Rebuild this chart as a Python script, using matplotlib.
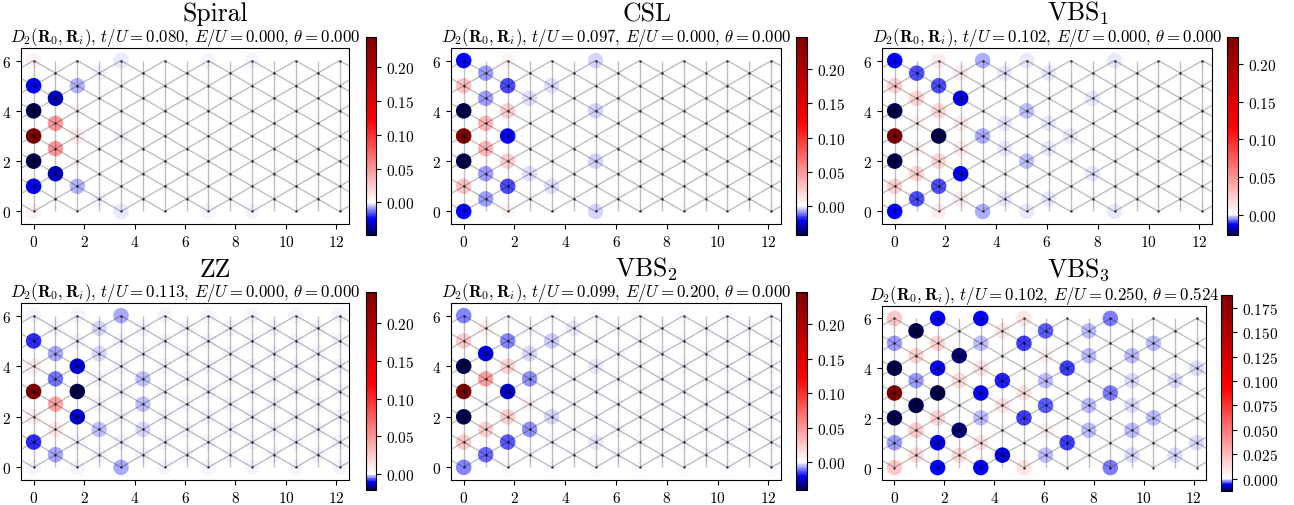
import numpy as np
import matplotlib
matplotlib.use("Agg")
import matplotlib.pyplot as plt
from matplotlib.collections import LineCollection
from matplotlib.colors import ListedColormap, Normalize, TwoSlopeNorm
from matplotlib.ticker import MultipleLocator, FormatStrFormatter

plt.rcParams['font.family'] = 'serif'
plt.rcParams['font.serif'] = ['cmr10']
plt.rcParams['mathtext.fontset'] = 'cm'
plt.rcParams['axes.formatter.use_mathtext'] = True

# panel names and parameters
names = ['Spiral', 'CSL', r'VBS$_1$', 'ZZ', r'VBS$_2$', r'VBS$_3$']
t_over_U = [0.080, 0.097, 0.102, 0.113, 0.099, 0.102]
E_over_U = [0.000, 0.000, 0.000, 0.000, 0.200, 0.250]
theta = [0.000, 0.000, 0.000, 0.000, 0.000, 0.524]

n_cols = 15   # columns of the triangular lattice
n_rows = 6    # sites per column (periodic in y)

# correlation D2(R0, Ri), (column, row, value); sites not listed are ~0
spiral_sites = [
    (0, 3, 0.244), (0, 4, -0.048), (0, 2, -0.048), (0, 5, -0.023), (0, 1, -0.023),
    (0, 0, 0.006),
    (1, 4, -0.032), (1, 1, -0.032), (1, 3, 0.050), (1, 2, 0.050),
    (2, 5, -0.006), (2, 1, -0.006), (2, 3, 0.010), (2, 4, 0.004), (2, 2, 0.004),
    (3, 5, -0.0012), (3, 0, -0.0012),
    (4, 0, -0.002), (4, 3, -0.001),
    (8, 0, -0.0008), (10, 0, -0.0008),
]
csl_sites = [
    (0, 3, 0.247), (0, 4, -0.042), (0, 2, -0.042), (0, 0, -0.020),
    (0, 5, 0.027), (0, 1, 0.027),
    (1, 5, -0.0075), (1, 4, -0.0075), (1, 1, -0.0075), (1, 0, -0.0075),
    (1, 3, 0.035), (1, 2, 0.035),
    (2, 5, -0.014), (2, 1, -0.014), (2, 3, -0.020), (2, 4, 0.022), (2, 2, 0.022),
    (2, 0, 0.006),
    (3, 4, -0.0015), (3, 1, -0.0015),
    (4, 5, -0.0015), (4, 1, -0.0015),
    (6, 0, -0.0025), (6, 2, -0.0025), (6, 4, -0.0025),
]
vbs1_sites = [
    (0, 3, 0.236), (0, 4, -0.027), (0, 2, -0.027), (0, 0, -0.013),
    (0, 5, 0.022), (0, 1, 0.022),
    (1, 5, -0.009), (1, 0, -0.009), (1, 4, 0.020), (1, 1, 0.020),
    (1, 3, 0.004), (1, 2, 0.004),
    (2, 5, -0.009), (2, 1, -0.009), (2, 3, -0.026), (2, 4, 0.018), (2, 2, 0.018),
    (2, 0, 0.008),
    (3, 4, -0.014), (3, 1, -0.014), (3, 5, 0.008), (3, 3, 0.008), (3, 2, 0.008),
    (3, 0, 0.008),
    (4, 0, -0.004), (4, 3, -0.004),
    (5, 5, -0.001), (5, 3, -0.0012), (5, 2, -0.0012), (5, 0, -0.001),
    (6, 4, -0.003), (6, 2, -0.003), (6, 0, -0.0006),
    (7, 5, -0.0008), (7, 3, -0.0008), (7, 2, -0.0008), (7, 0, -0.0008),
    (8, 3, -0.0008), (9, 4, -0.0008), (9, 1, -0.0008), (10, 0, -0.0006),
]
zz_sites = [
    (0, 3, 0.241), (0, 5, -0.008), (0, 1, -0.008), (0, 4, 0.008), (0, 2, 0.008),
    (1, 4, -0.0035), (1, 0, -0.0035), (1, 3, -0.005), (1, 2, 0.040), (1, 1, 0.010),
    (2, 4, -0.012), (2, 2, -0.012), (2, 3, -0.021),
    (3, 5, -0.0012), (3, 4, -0.0015), (3, 1, -0.0025),
    (4, 0, -0.003),
    (5, 3, -0.0025), (5, 2, -0.0025), (5, 1, -0.001),
]
vbs2_sites = [
    (0, 3, 0.247), (0, 4, -0.040), (0, 2, -0.040), (0, 0, -0.009),
    (0, 5, 0.025), (0, 1, 0.025),
    (1, 4, -0.023), (1, 0, -0.011), (1, 3, 0.045), (1, 1, 0.022), (1, 5, 0.008),
    (2, 5, -0.009), (2, 3, -0.025), (2, 1, -0.013), (2, 4, 0.020), (2, 2, 0.022),
    (3, 3, -0.008), (3, 1, -0.008), (3, 4, -0.002), (3, 2, 0.004),
    (4, 5, -0.004), (4, 2, -0.0025),
    (5, 5, -0.0015), (6, 4, -0.0015), (6, 1, -0.0015),
]
vbs3_sites = [
    (0, 3, 0.188), (0, 4, -0.0126), (0, 2, -0.0126), (0, 0, 0.020),
    (0, 5, -0.0018), (0, 1, -0.0018),
    (1, 5, -0.012), (1, 2, -0.012), (1, 3, -0.002), (1, 4, 0.015), (1, 1, 0.018),
    (1, 0, 0.012),
    (2, 3, -0.012), (2, 1, -0.007), (2, 0, -0.006), (2, 4, -0.006),
    (2, 5, 0.015), (2, 2, 0.015),
    (3, 4, -0.011), (3, 1, -0.011), (3, 3, 0.012), (3, 0, 0.012),
    (4, 0, -0.006), (4, 3, -0.006), (4, 2, -0.0015), (4, 5, -0.0015),
    (4, 4, 0.010), (4, 1, 0.010),
    (5, 3, -0.0055), (5, 0, -0.007), (5, 2, 0.010), (5, 5, 0.008),
    (6, 5, -0.0045), (6, 2, -0.0045), (6, 3, 0.010), (6, 0, 0.010),
    (7, 5, -0.0038), (7, 2, -0.0038), (7, 3, -0.0015), (7, 0, -0.0015),
    (7, 4, 0.005), (7, 1, 0.005),
    (8, 4, -0.004), (8, 1, -0.004),
    (9, 5, -0.0014), (9, 4, -0.0014), (9, 2, -0.0014), (9, 1, -0.0014),
    (10, 0, -0.0025), (10, 3, -0.0025),
    (11, 4, -0.0014), (11, 1, -0.0014), (11, 0, -0.0007), (11, 2, -0.0007),
    (11, 3, -0.0007),
    (12, 5, -0.0014), (12, 2, -0.0014),
    (13, 3, -0.0008), (13, 0, -0.0008),
    (14, 4, -0.0008), (14, 1, -0.0008),
]
panel_sites = [spiral_sites, csl_sites, vbs1_sites, zz_sites, vbs2_sites, vbs3_sites]

# layout in pixels (left, top, right, bottom) of axes and colorbars
W, H = 1294, 506
ax_px = [(21, 49, 349, 225), (451, 49, 781, 225), (882, 49, 1212, 225),
         (21, 304, 349, 481), (451, 304, 781, 481), (882, 307, 1206, 481)]
cb_px = [(366, 38, 376, 236), (796, 38, 807, 236), (1227, 38, 1238, 236),
         (366, 293, 376, 491), (796, 293, 807, 491), (1221, 296, 1232, 492)]


def rect(p):
    l, t, r, b = p
    return [l / W, 1 - b / H, (r - l) / W, (b - t) / H]


def col_y(i):
    return np.arange(7) if i % 2 == 0 else np.arange(6) + 0.5


s3 = np.sqrt(3) / 2
segs = []
for i in range(-1, n_cols + 1):
    x = i * s3
    segs.append([(x, 0), (x, 6)])
    for y in col_y(i):
        for y2 in col_y(i + 1):
            if abs(y2 - y) == 0.5:
                segs.append([(x, y), (x + s3, y2)])

fig = plt.figure(figsize=(W / 100, H / 100), dpi=100)

for k in range(6):
    grid = np.zeros((n_cols, n_rows))
    for c, r, v in panel_sites[k]:
        grid[c, r] = v
    xs, ys, vals = [], [], []
    for i in range(n_cols):
        for y in col_y(i):
            xs.append(i * s3)
            ys.append(y)
            vals.append(grid[i, int(y) % n_rows])
    vals = np.array(vals)
    vmin, vmax = vals.min(), vals.max()
    cmap = ListedColormap(plt.cm.seismic(TwoSlopeNorm(0, vmin, vmax)(np.linspace(vmin, vmax, 256))))

    ax = fig.add_axes(rect(ax_px[k]))
    sc = ax.scatter(xs, ys, c=vals, cmap=cmap, norm=Normalize(vmin, vmax), s=125,
                    linewidths=0, zorder=1)
    ax.add_collection(LineCollection(segs, colors='k', alpha=0.25, linewidths=1, zorder=2))
    ax.plot(xs, ys, 'k.', ms=2, alpha=0.5, zorder=3)
    ax.set_xlim(-0.5, 12.5)
    ax.set_ylim(-0.5, 6.5)
    ax.set_xticks(range(0, 13, 2))
    ax.set_yticks(range(0, 7, 2))
    ax.tick_params(labelsize=11)
    ax.set_title(r'$D_2(\mathbf{R}_0,\mathbf{R}_i)$, $t/U=%.3f$, $E/U=%.3f$, $\theta=%.3f$'
                 % (t_over_U[k], E_over_U[k], theta[k]), fontsize=12.1, pad=3)

    cax = fig.add_axes(rect(cb_px[k]))
    cb = fig.colorbar(sc, cax=cax)
    if k == 5:
        cb.ax.yaxis.set_major_locator(MultipleLocator(0.025))
        cb.ax.yaxis.set_major_formatter(FormatStrFormatter(r'$%.3f$'))
    else:
        cb.ax.yaxis.set_major_formatter(FormatStrFormatter(r'$%.2f$'))
    cb.ax.tick_params(labelsize=11)

    row, col = divmod(k, 3)
    fig.text((col + 0.5) / 3, 1 - (21 if row == 0 else 277) / H, names[k],
             ha='center', va='baseline', fontsize=18.5)

fig.savefig('out.png', dpi=100)
